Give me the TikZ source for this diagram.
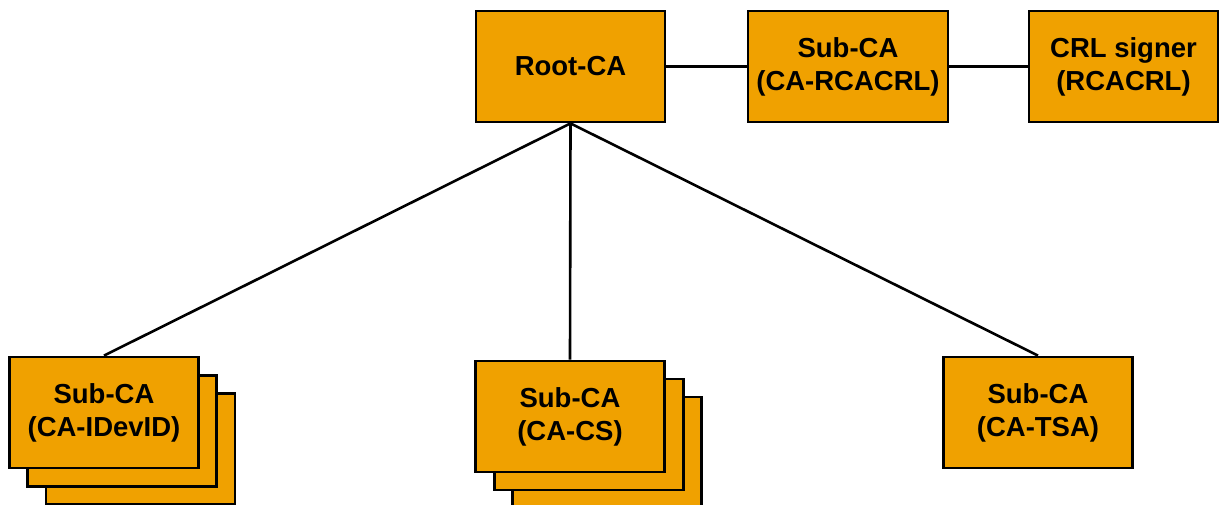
\documentclass[tikz,border=0pt]{standalone}
\usepackage{fontspec}
\setmainfont{Liberation Sans}
\definecolor{caorange}{RGB}{240,161,0}
\begin{document}
\begin{tikzpicture}[x=1pt,y=-1pt,
  cabox/.style={draw=black, line width=2.8pt, fill=caorange,
    minimum width=189pt, minimum height=111pt, inner sep=0pt,
    align=center, font=\fontsize{27.5}{33}\selectfont\bfseries},
  link/.style={draw=black, line width=2.6pt}]
\useasboundingbox (0,0) rectangle (1224,504);

% top row
\node[cabox] (root) at (570.5,66.5) {Root-CA};
\node[cabox, minimum width=200pt] (rcacrl) at (848,66.5) {Sub-CA\\(CA-RCACRL)};
\node[cabox] (crl) at (1123.5,66.5) {CRL signer\\(RCACRL)};

% IDevID stack (back to front)
\node[cabox] (idevC) at (140.5,449) {};
\node[cabox] (idevB) at (122,431) {};
\node[cabox] (idev) at (104,412.5) {Sub-CA\\(CA-IDevID)};

% CS stack (back to front)
\node[cabox] (csC) at (607,452.5) {};
\node[cabox] (csB) at (589,434.5) {};
\node[cabox] (cs) at (570,416.5) {Sub-CA\\(CA-CS)};

% TSA
\node[cabox] (tsa) at (1038,412.5) {Sub-CA\\(CA-TSA)};

% connectors
\draw[link] (root.east) -- (rcacrl.west);
\draw[link] (rcacrl.east) -- (crl.west);
\draw[link] (root.south) -- (idev.north);
\draw[link] (root.south) -- (cs.north);
\draw[link] (root.south) -- (tsa.north);
\end{tikzpicture}
\end{document}
